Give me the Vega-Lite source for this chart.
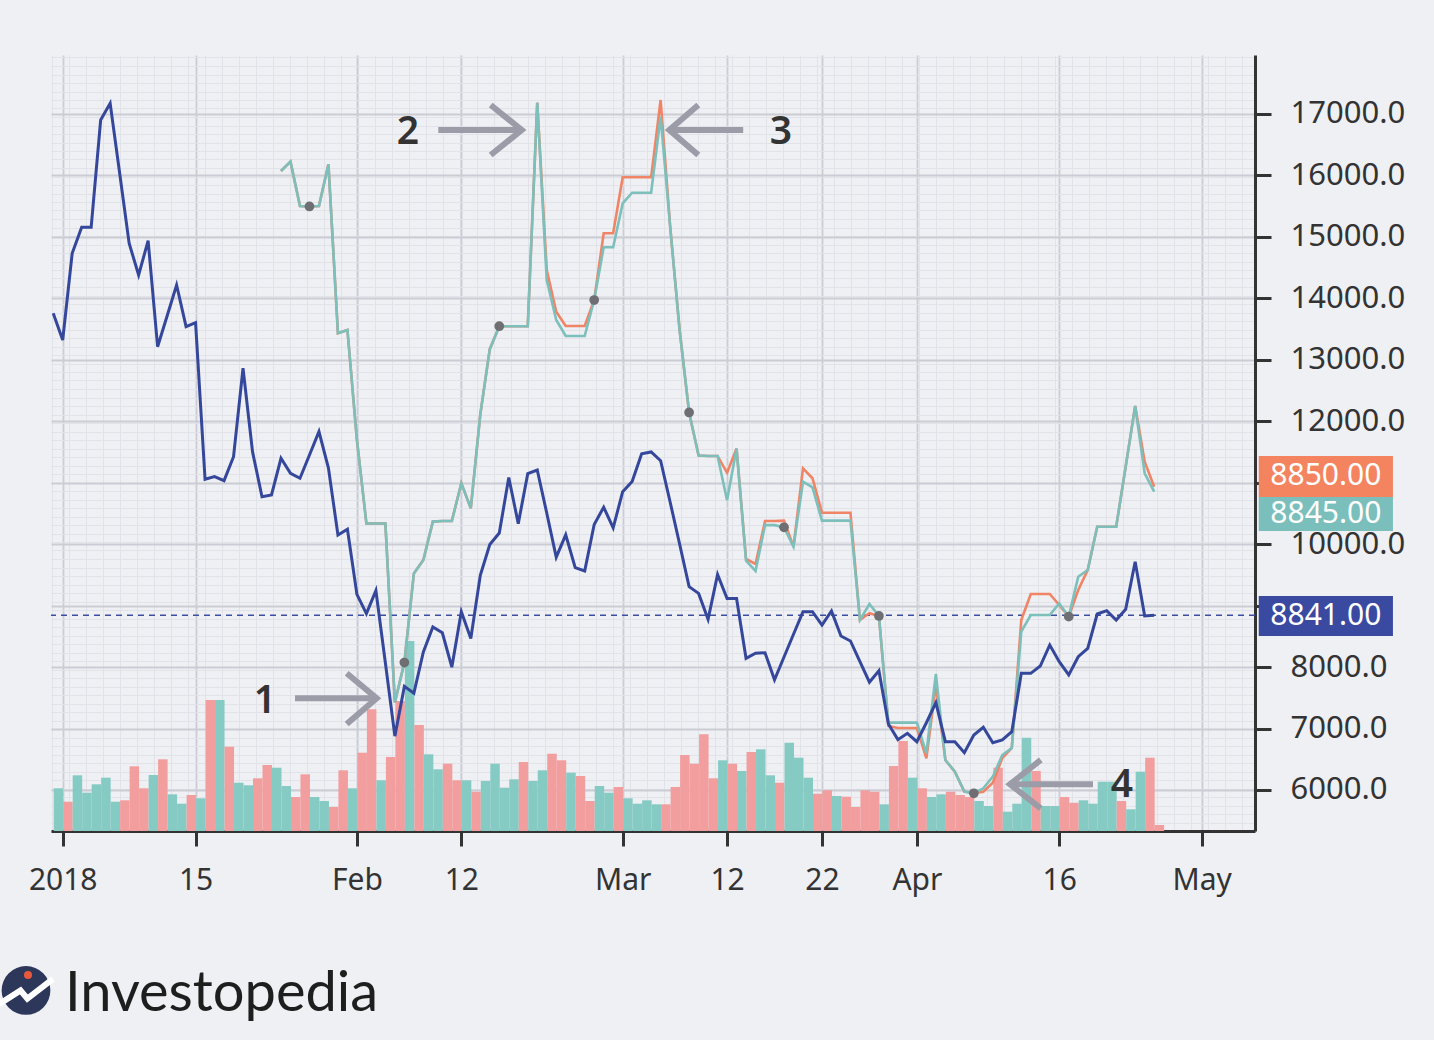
{
  "$schema": "https://vega.github.io/schema/vega-lite/v6.json",
  "width": 1204,
  "height": 776,
  "autosize": {"type": "none"},
  "padding": {"left": 51, "top": 55, "right": 179, "bottom": 209},
  "background": "#eef0f4",
  "config": {"view": {"stroke": null}, "font": "Noto Sans"},
  "datasets": {
    "daily": [
      {"d":"2017-12-31","p":13757,"vol":4270,"dir":"up"},
      {"d":"2018-01-01","p":13322,"vol":2930,"dir":"down"},
      {"d":"2018-01-02","p":14733,"vol":5570,"dir":"up"},
      {"d":"2018-01-03","p":15156,"vol":3830,"dir":"up"},
      {"d":"2018-01-04","p":15156,"vol":4670,"dir":"up"},
      {"d":"2018-01-05","p":16902,"vol":5330,"dir":"up"},
      {"d":"2018-01-06","p":17174,"vol":2930,"dir":"up"},
      {"d":"2018-01-07","p":16040,"vol":3070,"dir":"down"},
      {"d":"2018-01-08","p":14896,"vol":6470,"dir":"down"},
      {"d":"2018-01-09","p":14380,"vol":4270,"dir":"down"},
      {"d":"2018-01-10","p":14938,"vol":5600,"dir":"up"},
      {"d":"2018-01-11","p":13213,"vol":7170,"dir":"down"},
      {"d":"2018-01-12","p":13713,"vol":3670,"dir":"up"},
      {"d":"2018-01-13","p":14217,"vol":2730,"dir":"up"},
      {"d":"2018-01-14","p":13539,"vol":3600,"dir":"down"},
      {"d":"2018-01-15","p":13604,"vol":3270,"dir":"up"},
      {"d":"2018-01-16","p":11055,"vol":13100,"dir":"down"},
      {"d":"2018-01-17","p":11098,"vol":13100,"dir":"up"},
      {"d":"2018-01-18","p":11033,"vol":8430,"dir":"down"},
      {"d":"2018-01-19","p":11423,"vol":4830,"dir":"up"},
      {"d":"2018-01-20","p":12862,"vol":4570,"dir":"up"},
      {"d":"2018-01-21","p":11505,"vol":5270,"dir":"down"},
      {"d":"2018-01-22","p":10772,"vol":6600,"dir":"down"},
      {"d":"2018-01-23","p":10800,"vol":6330,"dir":"up"},
      {"d":"2018-01-24","p":11397,"t":16072,"s":16072,"vol":4500,"dir":"up"},
      {"d":"2018-01-25","p":11153,"t":16225,"s":16225,"vol":3400,"dir":"down"},
      {"d":"2018-01-26","p":11072,"t":15503,"s":15503,"vol":5670,"dir":"down"},
      {"d":"2018-01-27","p":11451,"t":15495,"s":15495,"vol":3400,"dir":"up","m":1},
      {"d":"2018-01-28","p":11832,"t":15503,"s":15503,"vol":3000,"dir":"up"},
      {"d":"2018-01-29","p":11239,"t":16181,"s":16181,"vol":2400,"dir":"down"},
      {"d":"2018-01-30","p":10149,"t":13433,"s":13433,"vol":6070,"dir":"down"},
      {"d":"2018-01-31","p":10242,"t":13485,"s":13485,"vol":4270,"dir":"up"},
      {"d":"2018-02-01","p":9182,"t":11695,"s":11695,"vol":7830,"dir":"down"},
      {"d":"2018-02-02","p":8870,"t":10335,"s":10335,"vol":12170,"dir":"down"},
      {"d":"2018-02-03","p":9244,"t":10335,"s":10335,"vol":5070,"dir":"up"},
      {"d":"2018-02-04","p":8066,"t":10335,"s":10335,"vol":7400,"dir":"down"},
      {"d":"2018-02-05","p":6875,"t":7423,"s":7423,"vol":13000,"dir":"down"},
      {"d":"2018-02-06","p":7685,"t":8073,"s":8073,"vol":19000,"dir":"up","m":1},
      {"d":"2018-02-07","p":7573,"t":9524,"s":9524,"vol":10600,"dir":"down"},
      {"d":"2018-02-08","p":8247,"t":9742,"s":9742,"vol":7670,"dir":"up"},
      {"d":"2018-02-09","p":8652,"t":10367,"s":10367,"vol":6170,"dir":"up"},
      {"d":"2018-02-10","p":8557,"t":10377,"s":10377,"vol":6730,"dir":"down"},
      {"d":"2018-02-11","p":7998,"t":10377,"s":10377,"vol":5070,"dir":"down"},
      {"d":"2018-02-12","p":8901,"t":10990,"s":10990,"vol":5070,"dir":"up"},
      {"d":"2018-02-13","p":8465,"t":10585,"s":10585,"vol":3930,"dir":"down"},
      {"d":"2018-02-14","p":9493,"t":12112,"s":12112,"vol":5000,"dir":"up"},
      {"d":"2018-02-15","p":9993,"t":13173,"s":13173,"vol":6730,"dir":"up"},
      {"d":"2018-02-16","p":10181,"t":13547,"s":13547,"vol":4330,"dir":"up","m":1},
      {"d":"2018-02-17","p":11083,"t":13547,"s":13547,"vol":5170,"dir":"up"},
      {"d":"2018-02-18","p":10334,"t":13547,"s":13547,"vol":6900,"dir":"down"},
      {"d":"2018-02-19","p":11147,"t":13547,"s":13547,"vol":5000,"dir":"up"},
      {"d":"2018-02-20","p":11207,"t":17184,"s":17184,"vol":6070,"dir":"up"},
      {"d":"2018-02-21","p":10507,"t":14299,"s":14461,"vol":7730,"dir":"down"},
      {"d":"2018-02-22","p":9788,"t":13648,"s":13783,"vol":7070,"dir":"down"},
      {"d":"2018-02-23","p":10152,"t":13387,"s":13550,"vol":5830,"dir":"up"},
      {"d":"2018-02-24","p":9618,"t":13387,"s":13550,"vol":5500,"dir":"down"},
      {"d":"2018-02-25","p":9563,"t":13387,"s":13550,"vol":3000,"dir":"down"},
      {"d":"2018-02-26","p":10320,"t":13973,"s":13973,"vol":4500,"dir":"up","m":1},
      {"d":"2018-02-27","p":10601,"t":14831,"s":15059,"vol":3830,"dir":"up"},
      {"d":"2018-02-28","p":10264,"t":14831,"s":15059,"vol":4400,"dir":"down"},
      {"d":"2018-03-01","p":10854,"t":15547,"s":15970,"vol":3270,"dir":"up"},
      {"d":"2018-03-02","p":11021,"t":15719,"s":15970,"vol":2730,"dir":"up"},
      {"d":"2018-03-03","p":11470,"t":15719,"s":15970,"vol":3070,"dir":"up"},
      {"d":"2018-03-04","p":11500,"t":15719,"s":15970,"vol":2670,"dir":"up"},
      {"d":"2018-03-05","p":11358,"t":16956,"s":17228,"vol":2670,"dir":"down"},
      {"d":"2018-03-06","p":10686,"t":15177,"s":15177,"vol":4400,"dir":"down"},
      {"d":"2018-03-07","p":10002,"t":13485,"s":13485,"vol":7600,"dir":"down"},
      {"d":"2018-03-08","p":9309,"t":12143,"s":12143,"vol":6730,"dir":"down","m":1},
      {"d":"2018-03-09","p":9199,"t":11441,"s":11441,"vol":9670,"dir":"down"},
      {"d":"2018-03-10","p":8777,"t":11435,"s":11435,"vol":5270,"dir":"down"},
      {"d":"2018-03-11","p":9506,"t":11435,"s":11435,"vol":7070,"dir":"up"},
      {"d":"2018-03-12","p":9114,"t":10714,"s":11161,"vol":6730,"dir":"down"},
      {"d":"2018-03-13","p":9114,"t":11555,"s":11555,"vol":6000,"dir":"up"},
      {"d":"2018-03-14","p":8142,"t":9731,"s":9758,"vol":7900,"dir":"down"},
      {"d":"2018-03-15","p":8224,"t":9563,"s":9677,"vol":8170,"dir":"up"},
      {"d":"2018-03-16","p":8233,"t":10309,"s":10377,"vol":5570,"dir":"up"},
      {"d":"2018-03-17","p":7794,"t":10309,"s":10377,"vol":4830,"dir":"down"},
      {"d":"2018-03-18","p":8163,"t":10274,"s":10382,"vol":8830,"dir":"up","m":1},
      {"d":"2018-03-19","p":8533,"t":9959,"s":9959,"vol":7330,"dir":"up"},
      {"d":"2018-03-20","p":8901,"t":11016,"s":11234,"vol":5330,"dir":"up"},
      {"d":"2018-03-21","p":8901,"t":10925,"s":11072,"vol":3730,"dir":"down"},
      {"d":"2018-03-22","p":8684,"t":10382,"s":10512,"vol":4070,"dir":"down"},
      {"d":"2018-03-23","p":8912,"t":10382,"s":10512,"vol":3500,"dir":"up"},
      {"d":"2018-03-24","p":8505,"t":10382,"s":10512,"vol":3430,"dir":"down"},
      {"d":"2018-03-25","p":8424,"t":10382,"s":10512,"vol":2400,"dir":"down"},
      {"d":"2018-03-26","p":8087,"t":8766,"s":8766,"vol":4070,"dir":"down"},
      {"d":"2018-03-27","p":7753,"t":9026,"s":8875,"vol":3930,"dir":"down"},
      {"d":"2018-03-28","p":7941,"t":8831,"s":8831,"vol":2670,"dir":"up","m":1},
      {"d":"2018-03-29","p":7073,"t":7095,"s":7041,"vol":6500,"dir":"down"},
      {"d":"2018-03-30","p":6819,"t":7095,"s":7008,"vol":9000,"dir":"down"},
      {"d":"2018-03-31","p":6922,"t":7095,"s":7008,"vol":5330,"dir":"up"},
      {"d":"2018-04-01","p":6785,"t":7095,"s":7008,"vol":4270,"dir":"down"},
      {"d":"2018-04-02","p":7094,"t":6597,"s":6515,"vol":3400,"dir":"up"},
      {"d":"2018-04-03","p":7420,"t":7887,"s":7708,"vol":3670,"dir":"up"},
      {"d":"2018-04-04","p":6785,"t":6487,"s":6487,"vol":3930,"dir":"down"},
      {"d":"2018-04-05","p":6785,"t":6297,"s":6297,"vol":3600,"dir":"down"},
      {"d":"2018-04-06","p":6606,"t":5972,"s":5972,"vol":3400,"dir":"down"},
      {"d":"2018-04-07","p":6894,"t":5946,"s":5946,"vol":3000,"dir":"up","m":1},
      {"d":"2018-04-08","p":7020,"t":6027,"s":5972,"vol":2500,"dir":"up"},
      {"d":"2018-04-09","p":6769,"t":6216,"s":6118,"vol":6330,"dir":"down"},
      {"d":"2018-04-10","p":6813,"t":6569,"s":6520,"vol":1930,"dir":"up"},
      {"d":"2018-04-11","p":6948,"t":6683,"s":6683,"vol":2730,"dir":"up"},
      {"d":"2018-04-12","p":7898,"t":8575,"s":8766,"vol":9330,"dir":"up"},
      {"d":"2018-04-13","p":7898,"t":8847,"s":9189,"vol":6000,"dir":"down"},
      {"d":"2018-04-14","p":8017,"t":8847,"s":9189,"vol":2500,"dir":"up"},
      {"d":"2018-04-15","p":8359,"t":8847,"s":9189,"vol":2500,"dir":"up"},
      {"d":"2018-04-16","p":8087,"t":9037,"s":9010,"vol":3400,"dir":"down"},
      {"d":"2018-04-17","p":7871,"t":8820,"s":8820,"vol":2830,"dir":"down","m":1},
      {"d":"2018-04-18","p":8168,"t":9471,"s":9254,"vol":3070,"dir":"up"},
      {"d":"2018-04-19","p":8305,"t":9580,"s":9580,"vol":2730,"dir":"up"},
      {"d":"2018-04-20","p":8863,"t":10284,"s":10284,"vol":4930,"dir":"up"},
      {"d":"2018-04-21","p":8917,"t":10284,"s":10284,"vol":4930,"dir":"up"},
      {"d":"2018-04-22","p":8766,"t":10284,"s":10284,"vol":3000,"dir":"down"},
      {"d":"2018-04-23","p":8940,"t":11261,"s":11261,"vol":2170,"dir":"up"},
      {"d":"2018-04-24","p":9714,"t":12248,"s":12248,"vol":5930,"dir":"up"},
      {"d":"2018-04-25","p":8831,"t":11153,"s":11342,"vol":7330,"dir":"down"},
      {"d":"2018-04-26","p":8841,"t":10854,"s":10935,"vol":600,"dir":"down"}
    ],
    "arrows": [
      {"a":"1s","o":1,"x":"2018-01-25T11:25:00Z","y":7492},
      {"a":"1s","o":2,"x":"2018-02-02T17:25:00Z","y":7492},
      {"a":"1h","o":1,"x":"2018-01-30T22:09:00Z","y":7898},
      {"a":"1h","o":2,"x":"2018-02-03T02:00:00Z","y":7492},
      {"a":"1h","o":3,"x":"2018-01-30T22:09:00Z","y":7073},
      {"a":"2s","o":1,"x":"2018-02-09T13:48:00Z","y":16740},
      {"a":"2s","o":2,"x":"2018-02-18T01:51:00Z","y":16740},
      {"a":"2h","o":1,"x":"2018-02-15T02:17:00Z","y":17146},
      {"a":"2h","o":2,"x":"2018-02-18T08:41:00Z","y":16740},
      {"a":"2h","o":3,"x":"2018-02-15T02:17:00Z","y":16333},
      {"a":"3s","o":1,"x":"2018-03-06T04:45:00Z","y":16740},
      {"a":"3s","o":2,"x":"2018-03-13T16:48:00Z","y":16740},
      {"a":"3h","o":1,"x":"2018-03-08T23:15:00Z","y":17146},
      {"a":"3h","o":2,"x":"2018-03-05T21:55:00Z","y":16740},
      {"a":"3h","o":3,"x":"2018-03-08T23:15:00Z","y":16333},
      {"a":"4s","o":1,"x":"2018-04-11T00:30:00Z","y":6092},
      {"a":"4s","o":2,"x":"2018-04-19T13:19:00Z","y":6092},
      {"a":"4h","o":1,"x":"2018-04-14T01:19:00Z","y":6488},
      {"a":"4h","o":2,"x":"2018-04-10T19:26:00Z","y":6092},
      {"a":"4h","o":3,"x":"2018-04-14T01:19:00Z","y":5702}
    ],
    "notes": [
      {"n":"1","x":"2018-01-22T07:34:00Z","y":7448},
      {"n":"2","x":"2018-02-06T09:10:00Z","y":16707},
      {"n":"3","x":"2018-03-17T16:22:00Z","y":16707},
      {"n":"4","x":"2018-04-22T14:40:00Z","y":6073}
    ],
    "boxes": [
      {"k":"a","lab":"8850.00","x1":"2018-05-07T00:30:00Z","x2":"2018-05-21T03:50:00Z","xc":"2018-05-14T02:10:00Z","y1":11435,"y2":10767,"yc":11101},
      {"k":"b","lab":"8845.00","x1":"2018-05-07T00:30:00Z","x2":"2018-05-21T03:50:00Z","xc":"2018-05-14T02:10:00Z","y1":10767,"y2":10214,"yc":10491},
      {"k":"c","lab":"8841.00","x1":"2018-05-07T00:30:00Z","x2":"2018-05-21T03:50:00Z","xc":"2018-05-14T02:10:00Z","y1":9156,"y2":8506,"yc":8831}
    ]
  },
  "data": {"name": "daily"},
  "resolve": {"scale": {"y": "independent"}, "axis": {"x": "independent", "y": "independent"}},
  "layer": [
    {
      "mark": {"type": "bar", "binSpacing": 0},
      "encoding": {
        "x": {"field": "d", "type": "temporal", "timeUnit": "utcyearmonthdate",
          "scale": {"type": "utc", "domain": [{"year": 2017, "month": 12, "date": 30, "hours": 18, "minutes": 25, "utc": true}, {"year": 2018, "month": 5, "date": 6, "hours": 15, "utc": true}], "nice": false},
          "axis": {"orient": "top", "values": {"expr": "sequence(utc(2017,11,30), utc(2018,4,8), 77380000)"}, "grid": true, "gridColor": "#e1e3e9", "gridWidth": 1, "labels": false, "ticks": false, "domain": false, "title": null}},
        "y": {"field": "vol", "type": "quantitative", "scale": {"domain": [0, 77600], "nice": false, "zero": true},
          "axis": {"orient": "left", "values": {"expr": "sequence(0, 78000, 850)"}, "grid": true, "gridColor": "#e1e3e9", "gridWidth": 1, "labels": false, "ticks": false, "domain": false, "title": null}},
        "color": {"field": "dir", "type": "nominal", "scale": {"domain": ["up", "down"], "range": ["#86cac4", "#f29d9e"]}, "legend": null}
      }
    },
    {
      "mark": {"type": "line", "color": "#35479b", "strokeWidth": 3, "opacity": 0},
      "encoding": {
        "x": {"field": "d", "type": "temporal", "scale": {"type": "utc", "domain": [{"year": 2017, "month": 12, "date": 30, "hours": 18, "minutes": 25, "utc": true}, {"year": 2018, "month": 5, "date": 6, "hours": 15, "utc": true}], "nice": false},
          "axis": {"orient": "bottom", "title": null,
            "values": [{"year":2018,"month":1,"date":1,"utc":true},{"year":2018,"month":1,"date":15,"utc":true},{"year":2018,"month":2,"date":1,"utc":true},{"year":2018,"month":2,"date":12,"utc":true},{"year":2018,"month":3,"date":1,"utc":true},{"year":2018,"month":3,"date":12,"utc":true},{"year":2018,"month":3,"date":22,"utc":true},{"year":2018,"month":4,"date":1,"utc":true},{"year":2018,"month":4,"date":16,"utc":true},{"year":2018,"month":5,"date":1,"utc":true}],
            "labelExpr": "utcFormat(datum.value, '%m-%d') == '01-01' ? utcFormat(datum.value, '%Y') : (utcdate(datum.value) == 1 ? utcFormat(datum.value, '%b') : utcFormat(datum.value, '%d'))",
            "grid": true, "gridColor": "#cbccd4", "gridWidth": 1.8,
            "domainColor": "#333333", "domainWidth": 3, "tickColor": "#333333", "tickWidth": 3, "tickSize": 15,
            "labelFont": "Noto Sans", "labelFontSize": 30, "labelColor": "#333333", "labelPadding": 19,
            "labelFlush": false, "labelOverlap": false, "labelBound": false}},
        "y": {"field": "p", "type": "quantitative", "scale": {"domain": [5332, 17960], "nice": false, "zero": false},
          "axis": {"orient": "right", "title": null,
            "values": [6000, 7000, 8000, 9000, 10000, 11000, 12000, 13000, 14000, 15000, 16000, 17000],
            "labelExpr": "datum.value == 9000 || datum.value == 11000 ? '' : format(datum.value, '.1f')",
            "grid": true, "gridColor": "#cbccd4", "gridWidth": 1.8,
            "domainColor": "#333333", "domainWidth": 3, "tickColor": "#333333", "tickWidth": 3, "tickSize": 16,
            "labelFont": "Noto Sans", "labelFontSize": 31, "labelColor": "#333333", "labelPadding": 19,
            "labelFlush": false, "labelOverlap": false, "labelBound": false}}
      }
    },
    {
      "data": {"values": [{"last": 8841}]},
      "mark": {"type": "rule", "color": "#3d4e9f", "strokeDash": [6, 5], "strokeWidth": 1.5},
      "encoding": {"y": {"field": "last", "type": "quantitative", "scale": {"domain": [5332, 17960], "nice": false, "zero": false}, "axis": null}}
    },
    {
      "mark": {"type": "line", "color": "#f08466", "strokeWidth": 2.6},
      "encoding": {
        "x": {"field": "d", "type": "temporal", "scale": {"type": "utc", "domain": [{"year": 2017, "month": 12, "date": 30, "hours": 18, "minutes": 25, "utc": true}, {"year": 2018, "month": 5, "date": 6, "hours": 15, "utc": true}], "nice": false}, "axis": null},
        "y": {"field": "s", "type": "quantitative", "scale": {"domain": [5332, 17960], "nice": false, "zero": false}, "axis": null}
      }
    },
    {
      "mark": {"type": "line", "color": "#7cbfbb", "strokeWidth": 2.6},
      "encoding": {
        "x": {"field": "d", "type": "temporal", "scale": {"type": "utc", "domain": [{"year": 2017, "month": 12, "date": 30, "hours": 18, "minutes": 25, "utc": true}, {"year": 2018, "month": 5, "date": 6, "hours": 15, "utc": true}], "nice": false}, "axis": null},
        "y": {"field": "t", "type": "quantitative", "scale": {"domain": [5332, 17960], "nice": false, "zero": false}, "axis": null}
      }
    },
    {
      "mark": {"type": "line", "color": "#35479b", "strokeWidth": 3},
      "encoding": {
        "x": {"field": "d", "type": "temporal", "scale": {"type": "utc", "domain": [{"year": 2017, "month": 12, "date": 30, "hours": 18, "minutes": 25, "utc": true}, {"year": 2018, "month": 5, "date": 6, "hours": 15, "utc": true}], "nice": false}, "axis": null},
        "y": {"field": "p", "type": "quantitative", "scale": {"domain": [5332, 17960], "nice": false, "zero": false}, "axis": null}
      }
    },
    {
      "transform": [{"filter": "datum.m == 1"}],
      "mark": {"type": "point", "shape": "circle", "filled": true, "size": 95, "color": "#6f6f73", "opacity": 1},
      "encoding": {
        "x": {"field": "d", "type": "temporal", "scale": {"type": "utc", "domain": [{"year": 2017, "month": 12, "date": 30, "hours": 18, "minutes": 25, "utc": true}, {"year": 2018, "month": 5, "date": 6, "hours": 15, "utc": true}], "nice": false}, "axis": null},
        "y": {"field": "t", "type": "quantitative", "scale": {"domain": [5332, 17960], "nice": false, "zero": false}, "axis": null}
      }
    },
    {
      "data": {"name": "arrows"},
      "mark": {"type": "line", "color": "#9b9ca8", "strokeWidth": 6, "strokeCap": "butt", "strokeJoin": "miter"},
      "encoding": {
        "x": {"field": "x", "type": "temporal", "scale": {"type": "utc", "domain": [{"year": 2017, "month": 12, "date": 30, "hours": 18, "minutes": 25, "utc": true}, {"year": 2018, "month": 5, "date": 6, "hours": 15, "utc": true}], "nice": false}, "axis": null},
        "y": {"field": "y", "type": "quantitative", "scale": {"domain": [5332, 17960], "nice": false, "zero": false}, "axis": null},
        "detail": {"field": "a", "type": "nominal"},
        "order": {"field": "o", "type": "quantitative"}
      }
    },
    {
      "data": {"name": "notes"},
      "mark": {"type": "text", "font": "Noto Sans", "fontSize": 39, "fontWeight": 600, "color": "#333333", "align": "center", "baseline": "middle"},
      "encoding": {
        "x": {"field": "x", "type": "temporal", "scale": {"type": "utc", "domain": [{"year": 2017, "month": 12, "date": 30, "hours": 18, "minutes": 25, "utc": true}, {"year": 2018, "month": 5, "date": 6, "hours": 15, "utc": true}], "nice": false}, "axis": null},
        "y": {"field": "y", "type": "quantitative", "scale": {"domain": [5332, 17960], "nice": false, "zero": false}, "axis": null},
        "text": {"field": "n", "type": "nominal"}
      }
    },
    {
      "data": {"name": "boxes"},
      "mark": {"type": "rect"},
      "encoding": {
        "x": {"field": "x1", "type": "temporal", "scale": {"type": "utc", "domain": [{"year": 2017, "month": 12, "date": 30, "hours": 18, "minutes": 25, "utc": true}, {"year": 2018, "month": 5, "date": 6, "hours": 15, "utc": true}], "nice": false}, "axis": null},
        "x2": {"field": "x2"},
        "y": {"field": "y1", "type": "quantitative", "scale": {"domain": [5332, 17960], "nice": false, "zero": false}, "axis": null},
        "y2": {"field": "y2"},
        "fill": {"field": "k", "type": "nominal", "scale": {"domain": ["a", "b", "c"], "range": ["#f4845f", "#7bbfbc", "#3a4aa0"]}, "legend": null}
      }
    },
    {
      "data": {"name": "boxes"},
      "mark": {"type": "text", "font": "Noto Sans", "fontSize": 30, "color": "#ffffff", "align": "center", "baseline": "middle"},
      "encoding": {
        "x": {"field": "xc", "type": "temporal", "scale": {"type": "utc", "domain": [{"year": 2017, "month": 12, "date": 30, "hours": 18, "minutes": 25, "utc": true}, {"year": 2018, "month": 5, "date": 6, "hours": 15, "utc": true}], "nice": false}, "axis": null},
        "y": {"field": "yc", "type": "quantitative", "scale": {"domain": [5332, 17960], "nice": false, "zero": false}, "axis": null},
        "text": {"field": "lab", "type": "nominal"}
      }
    },
    {
      "data": {"values": [{"x": "2017-12-28T03:11:00Z", "y": 2737}]},
      "mark": {"type": "point", "shape": "circle", "filled": true, "size": 2376, "color": "#2c375a", "opacity": 1},
      "encoding": {
        "x": {"field": "x", "type": "temporal", "scale": {"type": "utc", "domain": [{"year": 2017, "month": 12, "date": 30, "hours": 18, "minutes": 25, "utc": true}, {"year": 2018, "month": 5, "date": 6, "hours": 15, "utc": true}], "nice": false}, "axis": null},
        "y": {"field": "y", "type": "quantitative", "scale": {"domain": [5332, 17960], "nice": false, "zero": false}, "axis": null}
      }
    },
    {
      "data": {"values": [{"x": "2017-12-28T03:11:00Z", "y": 2737}]},
      "mark": {"type": "point", "shape": "M-0.98,0.5L-0.2,0L0.05,0.3L0.98,-0.42", "filled": false, "size": 3025, "color": "#ffffff", "strokeWidth": 6, "opacity": 1, "strokeJoin": "miter"},
      "encoding": {
        "x": {"field": "x", "type": "temporal", "scale": {"type": "utc", "domain": [{"year": 2017, "month": 12, "date": 30, "hours": 18, "minutes": 25, "utc": true}, {"year": 2018, "month": 5, "date": 6, "hours": 15, "utc": true}], "nice": false}, "axis": null},
        "y": {"field": "y", "type": "quantitative", "scale": {"domain": [5332, 17960], "nice": false, "zero": false}, "axis": null}
      }
    },
    {
      "data": {"values": [{"x": "2017-12-28T08:15:00Z", "y": 2989}]},
      "mark": {"type": "point", "shape": "circle", "filled": true, "size": 64, "color": "#e8593c", "opacity": 1},
      "encoding": {
        "x": {"field": "x", "type": "temporal", "scale": {"type": "utc", "domain": [{"year": 2017, "month": 12, "date": 30, "hours": 18, "minutes": 25, "utc": true}, {"year": 2018, "month": 5, "date": 6, "hours": 15, "utc": true}], "nice": false}, "axis": null},
        "y": {"field": "y", "type": "quantitative", "scale": {"domain": [5332, 17960], "nice": false, "zero": false}, "axis": null}
      }
    },
    {
      "data": {"values": [{"x": "2018-01-01T05:49:00Z", "y": 2403, "label": "Investopedia"}]},
      "mark": {"type": "text", "font": "Lato", "fontSize": 56, "color": "#1e1e1e", "align": "left", "baseline": "alphabetic"},
      "encoding": {
        "x": {"field": "x", "type": "temporal", "scale": {"type": "utc", "domain": [{"year": 2017, "month": 12, "date": 30, "hours": 18, "minutes": 25, "utc": true}, {"year": 2018, "month": 5, "date": 6, "hours": 15, "utc": true}], "nice": false}, "axis": null},
        "y": {"field": "y", "type": "quantitative", "scale": {"domain": [5332, 17960], "nice": false, "zero": false}, "axis": null},
        "text": {"field": "label", "type": "nominal"}
      }
    }
  ]
}
